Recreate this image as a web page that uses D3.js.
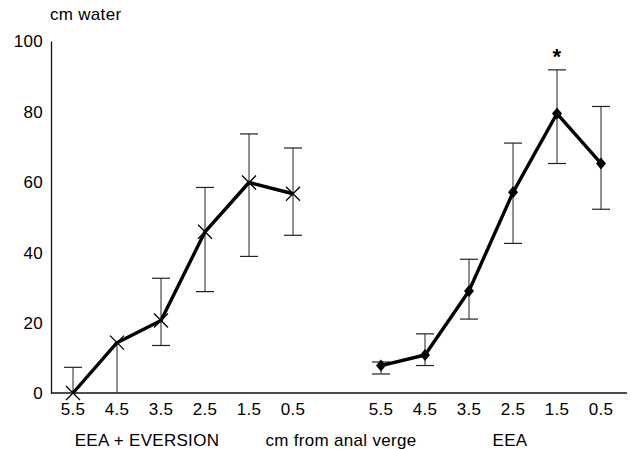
<!DOCTYPE html>
<html>
<head>
<meta charset="utf-8">
<script src="https://cdn.jsdelivr.net/npm/d3@7"></script>
<style>
  body { margin: 0; background: #fff; }
  svg text { font-family: "Liberation Sans", Arial, sans-serif; font-size: 17px; fill: #000; letter-spacing: 0.3px; }
</style>
</head>
<body>
<div id="container"></div>
<script>
// distance from anal verge (cm), same for both groups
var distances = ['5.5', '4.5', '3.5', '2.5', '1.5', '0.5'];

// EEA + EVERSION (cross markers)
var everMean  = [0, 14.3, 20.6, 45.8, 59.8, 56.6];
var everUpper = [7.3, null, 32.6, 58.4, 73.6, 69.6];
var everLower = [null, 0, 13.5, 28.8, 38.8, 44.8];

// EEA (diamond markers)
var eeaMean  = [7.8, 10.8, 29.0, 57.0, 79.4, 65.2];
var eeaUpper = [8.8, 16.8, 38.0, 71.0, 91.8, 81.4];
var eeaLower = [5.4, 7.8, 21.0, 42.5, 65.2, 52.2];

var yTicks = [0, 20, 40, 60, 80, 100];

var width = 631, height = 449;
var margin = { left: 51, top: 41, bottom: 56 };

var svg = d3.select('#container').append('svg')
  .attr('width', width).attr('height', height);

// 13 slots: 0-5 left group, slot 6 empty, 7-12 right group
var x = d3.scaleLinear().domain([0, 12]).range([73, 601]);
var y = d3.scaleLinear().domain([0, 100]).range([height - margin.bottom, margin.top]);

// y axis
var yAxis = svg.append('g')
  .attr('transform', `translate(${margin.left},0)`)
  .call(d3.axisLeft(y).tickValues(yTicks).tickSize(0).tickPadding(8).tickSizeOuter(0));
yAxis.select('.domain').attr('stroke', '#111').attr('stroke-width', 1.3);
yAxis.selectAll('text').attr('font-size', null).attr('font-family', null).attr('dy', '0.35em');

svg.append('text').attr('x', 50).attr('y', 20).text('cm  water');

// x axis line
svg.append('line')
  .attr('x1', margin.left).attr('x2', 627)
  .attr('y1', y(0)).attr('y2', y(0))
  .attr('stroke', '#111').attr('stroke-width', 1.3);

// x tick labels
var slots = distances.map((d, i) => ({ label: d, s: i }))
  .concat(distances.map((d, i) => ({ label: d, s: i + 7 })));
svg.selectAll('.xt').data(slots).join('text')
  .attr('class', 'xt')
  .attr('x', d => x(d.s)).attr('y', y(0) + 22)
  .attr('text-anchor', 'middle')
  .text(d => d.label);

svg.append('text').attr('x', 147).attr('y', 446).attr('text-anchor', 'middle').text('EEA + EVERSION');
svg.append('text').attr('x', 341).attr('y', 446).attr('text-anchor', 'middle').text('cm from anal verge');
svg.append('text').attr('x', 510).attr('y', 446).attr('text-anchor', 'middle').text('EEA');

function series(mean, upper, lower, offset, marker) {
  var g = svg.append('g');
  var pts = mean.map((m, i) => ({ s: i + offset, m: m, u: upper[i], l: lower[i] }));

  // error bars
  pts.forEach(p => {
    var top = p.u == null ? p.m : p.u;
    var bot = p.l == null ? p.m : p.l;
    g.append('line')
      .attr('x1', x(p.s)).attr('x2', x(p.s))
      .attr('y1', y(top)).attr('y2', y(bot))
      .attr('stroke', '#222').attr('stroke-width', 1);
    [p.u, p.l].forEach(v => {
      if (v == null || v === 0) return;
      g.append('line')
        .attr('x1', x(p.s) - 9).attr('x2', x(p.s) + 9)
        .attr('y1', y(v)).attr('y2', y(v))
        .attr('stroke', '#222').attr('stroke-width', 1.2);
    });
  });

  // mean line
  g.append('path')
    .datum(pts)
    .attr('d', d3.line().x(d => x(d.s)).y(d => y(d.m)))
    .attr('fill', 'none').attr('stroke', '#000').attr('stroke-width', 3.4)
    .attr('stroke-linejoin', 'round');

  // markers
  if (marker === 'cross') {
    g.selectAll('.mk').data(pts).join('path')
      .attr('transform', d => `translate(${x(d.s)},${y(d.m)})`)
      .attr('d', 'M-7,-7L7,7M-7,7L7,-7')
      .attr('stroke', '#000').attr('stroke-width', 1.3).attr('fill', 'none');
  } else {
    g.selectAll('.mk').data(pts).join('path')
      .attr('transform', d => `translate(${x(d.s)},${y(d.m)})`)
      .attr('d', 'M0,-6L5,0L0,6L-5,0Z')
      .attr('fill', '#000');
  }
  return g;
}

series(everMean, everUpper, everLower, 0, 'cross');
series(eeaMean, eeaUpper, eeaLower, 7, 'diamond');

// significance marker
svg.append('text')
  .attr('x', x(11)).attr('y', y(eeaUpper[4]) - 6)
  .attr('text-anchor', 'middle')
  .style('font-size', '22px').style('font-weight', 'bold')
  .text('*');
</script>
</body>
</html>
